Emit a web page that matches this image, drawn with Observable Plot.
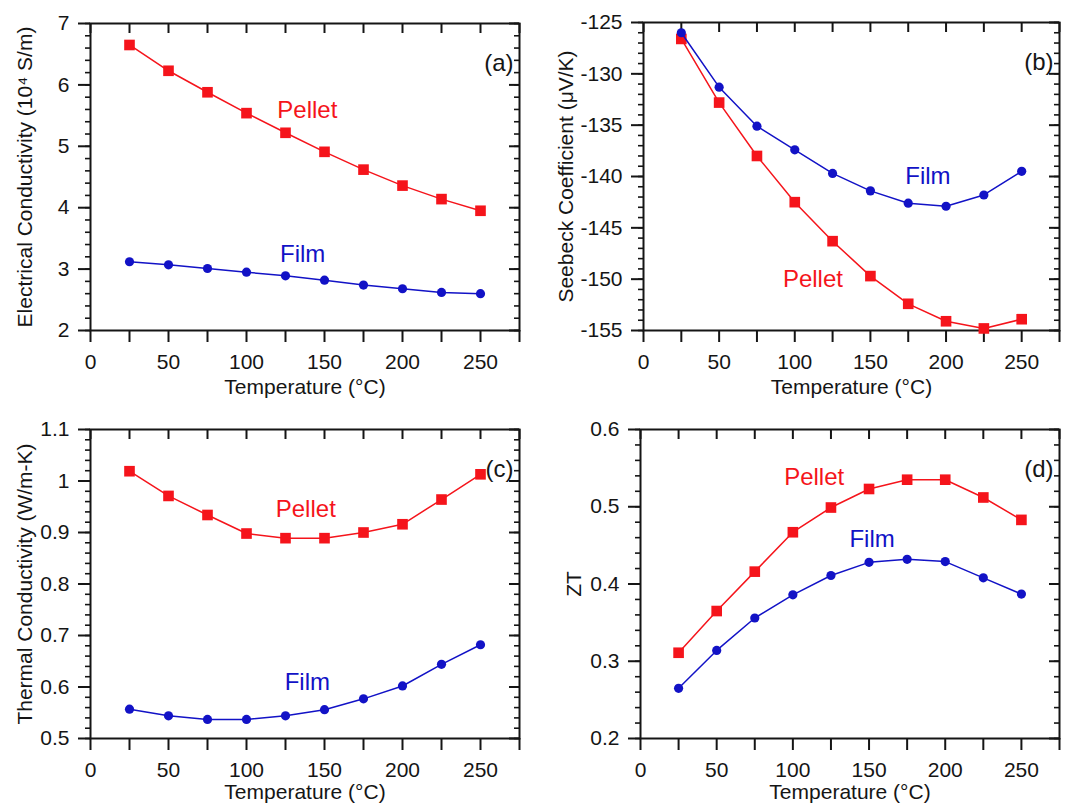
<!DOCTYPE html>
<html>
<head>
<meta charset="utf-8">
<script src="https://cdn.jsdelivr.net/npm/d3@7"></script>
<script src="https://cdn.jsdelivr.net/npm/@observablehq/plot@0.6"></script>
<style>
  body { margin: 0; background: #fff; }
  #wrap { position: relative; width: 1068px; height: 811px; overflow: hidden; background: #fff; }
  #wrap > .panel { position: absolute; }
  svg { font-family: Arial, "Liberation Sans", sans-serif; }
</style>
</head>
<body>
<div id="wrap"></div>
<script>
// ---------- data ----------
const temperature = [25, 50, 75, 100, 125, 150, 175, 200, 225, 250];

const condPellet = [6.65, 6.23, 5.88, 5.54, 5.22, 4.91, 4.62, 4.36, 4.14, 3.95];
const condFilm   = [3.12, 3.07, 3.01, 2.95, 2.89, 2.82, 2.74, 2.68, 2.62, 2.60];

const seebeckPellet = [-126.6, -132.8, -138.0, -142.5, -146.3, -149.7, -152.4, -154.1, -154.8, -153.9];
const seebeckFilm   = [-126.0, -131.3, -135.1, -137.4, -139.7, -141.4, -142.6, -142.9, -141.8, -139.5];

const thermPellet = [1.019, 0.971, 0.934, 0.898, 0.889, 0.889, 0.900, 0.916, 0.964, 1.013];
const thermFilm   = [0.557, 0.544, 0.537, 0.537, 0.544, 0.556, 0.577, 0.602, 0.644, 0.682];

const ztPellet = [0.311, 0.365, 0.416, 0.467, 0.499, 0.523, 0.535, 0.535, 0.512, 0.483];
const ztFilm   = [0.265, 0.314, 0.356, 0.386, 0.411, 0.428, 0.432, 0.429, 0.408, 0.387];

const xTicks = [0, 25, 50, 75, 100, 125, 150, 175, 200, 225, 250, 275];
const xLabel = "Temperature (°C)";

const yTicksA = [2, 3, 4, 5, 6, 7];
const yTicksB = [-155, -150, -145, -140, -135, -130, -125];
const yTicksC = [0.5, 0.6, 0.7, 0.8, 0.9, 1, 1.1];
const yTicksD = [0.2, 0.3, 0.4, 0.5, 0.6];

const labelsA = [{text: "Pellet", x: 139, y: 5.59}, {text: "Film", x: 136, y: 3.24}];
const labelsB = [{text: "Pellet", x: 112, y: -150.0}, {text: "Film", x: 188, y: -139.95}];
const labelsC = [{text: "Pellet", x: 138, y: 0.945}, {text: "Film", x: 139, y: 0.610}];
const labelsD = [{text: "Pellet", x: 114, y: 0.538}, {text: "Film", x: 152, y: 0.458}];

// ---------- styles ----------
const RED = "#f5141b";
const BLUE = "#1212c6";
const INK = "#151515";

function panel(o) {
  const W = o.width, H = o.height;
  const innerW = W - o.ml - o.mr, innerH = H - o.mt - o.mb;
  const rows = (vals) => temperature.map((t, i) => ({t, v: vals[i]}));
  const pellet = rows(o.pellet), film = rows(o.film);
  const [y0, y1] = [o.yTicks[0], o.yTicks[o.yTicks.length - 1]];
  const yMinor = d3.range(y0, y1 + o.minor / 2, o.minor);
  const fmt = d => String(d);
  return Plot.plot({
    width: W, height: H,
    marginLeft: o.ml, marginRight: o.mr, marginTop: o.mt, marginBottom: o.mb,
    style: {fontFamily: 'Arial, "Liberation Sans", sans-serif', fontSize: "21px", color: INK, background: "white", overflow: "visible"},
    x: {domain: [0, 275]},
    y: {domain: [y0, y1]},
    marks: [
      Plot.axisX(xTicks, {anchor: "bottom", tickSize: 12, tickPadding: 12, strokeWidth: 2, fontSize: 21,
        tickFormat: d => (d % 50 === 0 && d < 275) ? String(d) : "", label: null}),
      Plot.tickX(xTicks, {x: d => d, insetBottom: innerH - 10, strokeWidth: 2, stroke: INK}),
      Plot.axisY(yMinor, {anchor: "left", tickSize: 5, tickFormat: () => "", strokeWidth: 1.6, label: null}),
      Plot.axisY(o.yTicks, {anchor: "left", tickSize: 12, tickPadding: 9, strokeWidth: 2, fontSize: 21,
        tickFormat: fmt, label: null}),
      Plot.tickY(o.yTicks, {y: d => d, insetLeft: innerW - 10, strokeWidth: 2, stroke: INK}),
      Plot.tickY(yMinor, {y: d => d, insetLeft: innerW - 5, strokeWidth: 1.6, stroke: INK}),
      Plot.frame({stroke: INK, strokeWidth: 2}),
      Plot.line(pellet, {x: "t", y: "v", stroke: RED, strokeWidth: 1.5}),
      Plot.dot(pellet, {x: "t", y: "v", symbol: "square", r: 6, fill: RED}),
      Plot.line(film, {x: "t", y: "v", stroke: BLUE, strokeWidth: 1.5}),
      Plot.dot(film, {x: "t", y: "v", symbol: "circle", r: 4.6, fill: BLUE}),
      Plot.text(o.labels.filter(d => d.text === "Pellet"), {x: "x", y: "y", text: "text", fill: RED, fontSize: 24}),
      Plot.text(o.labels.filter(d => d.text === "Film"), {x: "x", y: "y", text: "text", fill: BLUE, fontSize: 24}),
      Plot.text([o.tag], {text: d => d, frameAnchor: "top-right", textAnchor: "end", dx: -6, dy: 30, fontSize: 24, fill: INK}),
      Plot.text([xLabel], {text: d => d, frameAnchor: "bottom", textAnchor: "middle", dy: o.xOff, fontSize: 21, fill: INK}),
      Plot.text([o.yLabel], {text: d => d, frameAnchor: "left", textAnchor: "middle", rotate: -90, dx: -o.yOff, fontSize: 21, fill: INK})
    ]
  });
}

const panels = [
  {left: 0, top: 0, width: 534, height: 405, ml: 90, mr: 15, mt: 23, mb: 75, yOff: 65, xOff: 63,
   yTicks: yTicksA, minor: 0.2, pellet: condPellet, film: condFilm, labels: labelsA, tag: "(a)",
   yLabel: "Electrical Conductivity (10\u2074 S/m)"},
  {left: 534, top: 0, width: 534, height: 405, ml: 109, mr: 9, mt: 22, mb: 75, yOff: 77, xOff: 63,
   yTicks: yTicksB, minor: 1, pellet: seebeckPellet, film: seebeckFilm, labels: labelsB, tag: "(b)",
   yLabel: "Seebeck Coefficient (\u03bcV/K)"},
  {left: 0, top: 405, width: 534, height: 406, ml: 90, mr: 15, mt: 24, mb: 73, yOff: 65, xOff: 60,
   yTicks: yTicksC, minor: 0.02, pellet: thermPellet, film: thermFilm, labels: labelsC, tag: "(c)",
   yLabel: "Thermal Conductivity (W/m-K)"},
  {left: 534, top: 405, width: 534, height: 406, ml: 106, mr: 9, mt: 24, mb: 73, yOff: 66, xOff: 60,
   yTicks: yTicksD, minor: 0.02, pellet: ztPellet, film: ztFilm, labels: labelsD, tag: "(d)",
   yLabel: "ZT"}
];

const wrap = document.getElementById("wrap");
for (const p of panels) {
  const div = document.createElement("div");
  div.className = "panel";
  div.style.left = p.left + "px";
  div.style.top = p.top + "px";
  div.appendChild(panel(p));
  wrap.appendChild(div);
}
</script>
</body>
</html>
